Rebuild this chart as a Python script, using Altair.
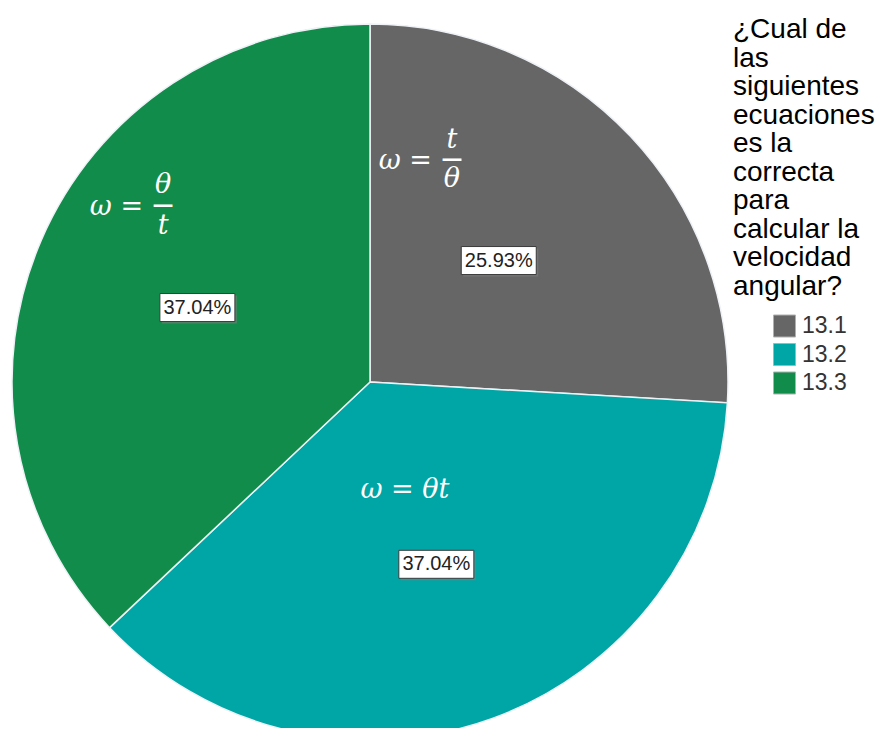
import altair as alt
import pandas as pd

# ---- data ----
categories = ["13.1", "13.2", "13.3"]
percentages = [25.93, 37.04, 37.04]
pct_labels = ["25.93%", "37.04%", "37.04%"]
eq_lhs = ["ω =", "ω = θt", "ω ="]
eq_num = ["t", "", "θ"]
eq_den = ["θ", "", "t"]
legend_title = ["¿Cual de", "las", "siguientes", "ecuaciones", "es la",
                "correcta", "para", "calcular la", "velocidad", "angular?"]
colors = ["#666666", "#00A6A5", "#128C4A"]

df = pd.DataFrame({
    "category": categories,
    "pct": percentages,
    "label": pct_labels,
    "lhs": eq_lhs,
    "num": eq_num,
    "den": eq_den,
})

W, H = 716, 692
R = 358

xenc = alt.X("px:Q", scale=alt.Scale(domain=[-W / 2, W / 2], nice=False, zero=False), axis=None)
yenc = alt.Y("py:Q", scale=alt.Scale(domain=[-H / 2, H / 2], nice=False, zero=False), axis=None)

base = alt.Chart(df)

arc = base.mark_arc(outerRadius=R, stroke="#eef2f6", strokeWidth=1.5).encode(
    theta=alt.Theta("pct:Q", stack=True),
    color=alt.Color(
        "category:N",
        scale=alt.Scale(domain=categories, range=colors),
        legend=alt.Legend(
            title=legend_title,
            orient="none", legendX=721, legendY=-20,
            titleFont="Liberation Sans", titleFontSize=28, titleFontWeight="normal",
            titleColor="#000000", titleLineHeight=28.5, titleLimit=220, titlePadding=14,
            labelFont="Liberation Sans", labelFontSize=23, labelColor="#333333",
            labelOffset=6, symbolType="square", symbolSize=484, symbolOffset=40,
            symbolStrokeColor="#b0b0b0", symbolStrokeWidth=1, rowPadding=1.5,
        ),
    ),
    order=alt.Order("category:N"),
)


def placed(cat, r):
    return (
        base.transform_joinaggregate(tot="sum(pct)")
        .transform_window(cum="sum(pct)", sort=[alt.SortField("category", order="ascending")], frame=[None, 0])
        .transform_calculate(mid="(datum.cum - datum.pct / 2) / datum.tot * 2 * PI")
        .transform_filter(alt.datum.category == cat)
        .transform_calculate(px=f"{r} * sin(datum.mid)", py=f"{r} * cos(datum.mid)")
        .encode(x=xenc, y=yenc)
    )


BOX = "M-1,-0.3733L1,-0.3733L1,0.3733L-1,0.3733Z"
SHADOW = "M-0.9467,-0.32L1.0533,-0.32L1.0533,0.4267L-0.9467,0.4267Z"
BOX_SIZE = 5625

label_radius = {"13.1": 177, "13.2": 194, "13.3": 188}

MATH = dict(font="DejaVu Serif", fontSize=27, fontStyle="italic", color="white", baseline="middle")
BAR = dict(font="DejaVu Serif", fontSize=21, fontWeight="bold", color="white", baseline="middle", align="center")

layers = [arc]
for cat in categories:
    p = placed(cat, label_radius[cat])
    layers.append(p.mark_point(shape=SHADOW, size=BOX_SIZE, filled=True, fill="#808080", opacity=0.55, strokeWidth=0))
    layers.append(p.mark_point(shape=BOX, size=BOX_SIZE, filled=True, fill="white", opacity=1,
                               stroke="#3a3a3a", strokeWidth=1))
    layers.append(p.mark_text(font="Liberation Sans", fontSize=20, color="#222222",
                              align="center", baseline="middle").encode(text="label:N"))

# equation labels (offsets from each slice's label anchor)
eq_layout = {
    "13.1": dict(lhs=(-66.8, -99.5), frac_dx=-46.8, num=-120.5, bar=-101.5, den=-81.5),
    "13.3": dict(lhs=(-54.3, -100.5), frac_dx=-34.3, num=-122.5, bar=-102.5, den=-81.5),
}
for cat, lay in eq_layout.items():
    p = placed(cat, label_radius[cat])
    layers.append(p.mark_text(align="right", dx=lay["lhs"][0], dy=lay["lhs"][1], **MATH).encode(text="lhs:N"))
    layers.append(p.mark_text(align="center", dx=lay["frac_dx"], dy=lay["num"], **MATH).encode(text="num:N"))
    layers.append(p.mark_text(dx=lay["frac_dx"], dy=lay["bar"], **BAR).encode(text=alt.value("—")))
    layers.append(p.mark_text(align="center", dx=lay["frac_dx"], dy=lay["den"], **MATH).encode(text="den:N"))

p = placed("13.2", label_radius["13.2"])
layers.append(p.mark_text(align="center", dx=-31.4, dy=-74.3, **MATH).encode(text="lhs:N"))

chart = (
    alt.layer(*layers)
    .properties(
        width=W, height=H,
        autosize=alt.AutoSizeParams(type="none"),
        padding={"left": 4, "top": 28, "right": 150, "bottom": 0},
        background="white",
    )
    .configure_view(stroke=None)
)

chart.save("out.html", embed_options={"renderer": "svg", "actions": False})
